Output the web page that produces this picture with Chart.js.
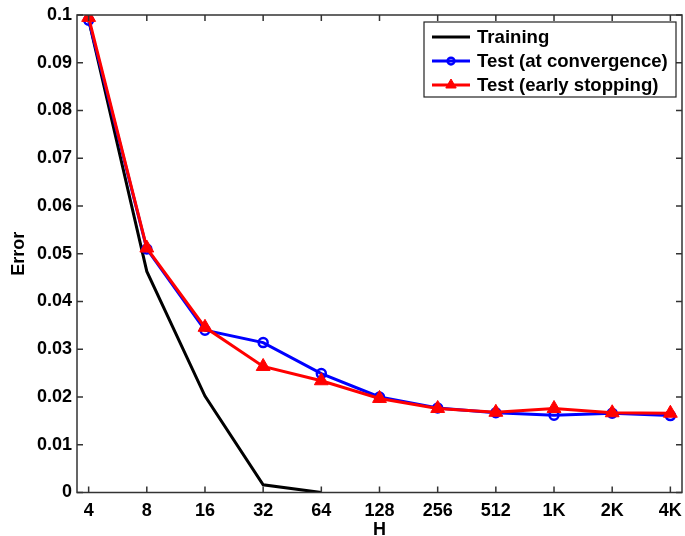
<!DOCTYPE html>
<html>
<head>
<meta charset="utf-8">
<script src="https://cdn.jsdelivr.net/npm/chart.js@4.4.1/dist/chart.umd.min.js"></script>
<style>
  html, body { margin: 0; padding: 0; background: #fff; }
  #wrap { width: 685px; height: 536px; }
</style>
</head>
<body>
<div id="wrap"><canvas id="chart" width="685" height="536"></canvas></div>
<script>
// --- Data ---
const hLabels = ['4', '8', '16', '32', '64', '128', '256', '512', '1K', '2K', '4K'];
const training = [0.0990, 0.0463, 0.0202, 0.0016, 0.0000, null, null, null, null, null, null];
const testConvergence = [0.0989, 0.0510, 0.0340, 0.0314, 0.0249, 0.0200, 0.0177, 0.0167, 0.0162, 0.0166, 0.0161];
const testEarlyStop = [0.0995, 0.0512, 0.0346, 0.0264, 0.0234, 0.0197, 0.0176, 0.0168, 0.0176, 0.0167, 0.0166];
const yTicks = [0, 0.01, 0.02, 0.03, 0.04, 0.05, 0.06, 0.07, 0.08, 0.09, 0.1];

const FONT = 'Liberation Sans, Arial, Helvetica, sans-serif';

const toPoints = arr => arr.map((v, i) => ({ x: i, y: v }));

// frame + inward ticks like matlab
const framePlugin = {
    id: 'frame',
    afterDraw(chart) {
        const { ctx, chartArea: a, scales } = chart;
        ctx.save();
        ctx.strokeStyle = '#333';
        ctx.lineWidth = 1.5;
        ctx.strokeRect(a.left, a.top, a.right - a.left, a.bottom - a.top);
        ctx.beginPath();
        const len = 6;
        hLabels.forEach((_, i) => {
            const x = scales.x.getPixelForValue(i);
            ctx.moveTo(x, a.bottom); ctx.lineTo(x, a.bottom - len);
            ctx.moveTo(x, a.top); ctx.lineTo(x, a.top + len);
        });
        yTicks.forEach(v => {
            const y = scales.y.getPixelForValue(v);
            ctx.moveTo(a.left, y); ctx.lineTo(a.left + len, y);
            ctx.moveTo(a.right, y); ctx.lineTo(a.right - len, y);
        });
        ctx.stroke();
        ctx.restore();
    }
};

// legend with line + marker
const legendPlugin = {
    id: 'matLegend',
    afterDraw(chart) {
        const { ctx, chartArea: a } = chart;
        const bx = a.right - 258, by = a.top + 7, bw = 252, bh = 75;
        ctx.save();
        ctx.fillStyle = '#fff';
        ctx.fillRect(bx, by, bw, bh);
        ctx.strokeStyle = '#222';
        ctx.lineWidth = 1.2;
        ctx.strokeRect(bx, by, bw, bh);
        ctx.textBaseline = 'middle';
        chart.data.datasets.forEach((ds, i) => {
            const y = by + 15 + i * 24;
            const x0 = bx + 8, x1 = bx + 46;
            ctx.strokeStyle = ds.borderColor;
            ctx.lineWidth = ds.borderWidth;
            ctx.beginPath(); ctx.moveTo(x0, y); ctx.lineTo(x1, y); ctx.stroke();
            if (ds.pointRadius > 0) {
                ctx.fillStyle = ds.pointBackgroundColor;
                ctx.strokeStyle = ds.pointBorderColor;
                ctx.lineWidth = ds.pointBorderWidth;
                Chart.helpers.drawPoint(ctx, {
                    pointStyle: ds.pointStyle,
                    radius: ds.pointRadius * 0.75,
                    borderWidth: ds.pointBorderWidth
                }, (x0 + x1) / 2, y);
            }
            ctx.fillStyle = '#000';
            ctx.font = 'bold 18.6px ' + FONT;
            ctx.fillText(ds.label, bx + 53, y + 1);
        });
        ctx.restore();
    }
};

new Chart(document.getElementById('chart'), {
    type: 'line',
    data: {
        datasets: [
            {
                label: 'Training',
                data: toPoints(training),
                borderColor: '#000',
                borderWidth: 3,
                pointRadius: 0,
                order: 3
            },
            {
                label: 'Test (at convergence)',
                data: toPoints(testConvergence),
                borderColor: '#0000ff',
                backgroundColor: 'rgba(0,0,255,0)',
                borderWidth: 3,
                pointStyle: 'circle',
                pointRadius: 4.5,
                pointBorderWidth: 2.5,
                pointBorderColor: '#0000ff',
                pointBackgroundColor: 'rgba(0,0,255,0)',
                order: 2
            },
            {
                label: 'Test (early stopping)',
                data: toPoints(testEarlyStop),
                borderColor: '#ff0000',
                backgroundColor: '#ff0000',
                borderWidth: 3,
                pointStyle: 'triangle',
                pointRadius: 8,
                pointBorderWidth: 1,
                pointBorderColor: '#ff0000',
                pointBackgroundColor: '#ff0000',
                order: 1
            }
        ]
    },
    options: {
        responsive: false,
        animation: false,
        spanGaps: false,
        layout: { autoPadding: false, padding: { top: 15, right: 3, left: 0, bottom: 0 } },
        plugins: {
            legend: { display: false },
            tooltip: { enabled: false }
        },
        scales: {
            x: {
                type: 'linear',
                min: -0.2,
                max: 10.2,
                afterBuildTicks: s => { s.ticks = hLabels.map((_, i) => ({ value: i })); },
                afterFit: s => { s.height = 43.5; s.paddingLeft = 0; s.paddingRight = 0; },
                grid: { display: false, drawTicks: false },
                border: { display: false },
                ticks: {
                    autoSkip: false,
                    maxRotation: 0,
                    padding: 8,
                    color: '#000',
                    font: { family: FONT, size: 18, weight: 'bold' },
                    callback: v => hLabels[v]
                },
                title: {
                    display: true,
                    text: 'H',
                    color: '#000',
                    padding: { top: 0, bottom: -5 },
                    font: { family: FONT, size: 18, weight: 'bold' }
                }
            },
            y: {
                min: 0,
                max: 0.1,
                afterBuildTicks: s => { s.ticks = yTicks.map(v => ({ value: v })); },
                afterFit: s => { s.width = 77; s.paddingTop = 0; s.paddingBottom = 0; },
                grid: { display: false, drawTicks: false },
                border: { display: false },
                ticks: {
                    padding: 5,
                    color: '#000',
                    font: { family: FONT, size: 18, weight: 'bold' },
                    callback: v => String(Math.round(v * 100) / 100)
                },
                title: {
                    display: true,
                    text: 'Error',
                    color: '#000',
                    padding: { top: 8, bottom: 0 },
                    font: { family: FONT, size: 18, weight: 'bold' }
                }
            }
        }
    },
    plugins: [framePlugin, legendPlugin]
});
</script>
</body>
</html>
